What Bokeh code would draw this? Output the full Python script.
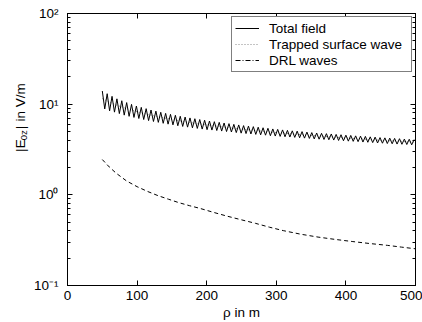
import math
from bokeh.plotting import figure
from bokeh.layouts import row
from bokeh.models import (Range1d, LinearAxis, LogAxis, LogTicker, FixedTicker,
                          Legend, LegendItem, CustomJSTickFormatter, GlobalInlineStyleSheet)
from bokeh.core.properties import value
from bokeh.embed import file_html
from bokeh.resources import INLINE

# ---------------- data ----------------
rho_total = [50, 53.5, 57, 60.5, 64, 67.5, 71, 74.5, 78, 81.5,
             85, 88.5, 92, 95.5, 99, 102.5, 106, 109.5, 113, 116.5,
             120, 123.5, 127, 130.5, 134, 137.5, 141, 144.5, 148, 151.5,
             155, 158.5, 162, 165.5, 169, 172.5, 176, 179.5, 183, 186.5,
             190, 193.5, 197, 200.5, 204, 207.5, 211, 214.5, 218, 221.5,
             225, 228.5, 232, 235.5, 239, 242.5, 246, 249.5, 253, 256.5,
             260, 263.5, 267, 270.5, 274, 277.5, 281, 284.5, 288, 291.5,
             295, 298.5, 302, 305.5, 309, 312.5, 316, 319.5, 323, 326.5,
             330, 333.5, 337, 340.5, 344, 347.5, 351, 354.5, 358, 361.5,
             365, 368.5, 372, 375.5, 379, 382.5, 386, 389.5, 393, 396.5,
             400, 403.5, 407, 410.5, 414, 417.5, 421, 424.5, 428, 431.5,
             435, 438.5, 442, 445.5, 449, 452.5, 456, 459.5, 463, 466.5,
             470, 473.5, 477, 480.5, 484, 487.5, 491, 494.5, 498]
E_total = [13.97, 8.86, 13.04, 8.44, 12.20, 8.17, 11.45, 7.87, 10.91, 7.57,
           10.41, 7.34, 9.95, 7.14, 9.54, 6.95, 9.22, 6.77, 8.92, 6.59,
           8.62, 6.44, 8.38, 6.30, 8.14, 6.15, 7.92, 6.02, 7.72, 5.91,
           7.54, 5.78, 7.35, 5.68, 7.21, 5.58, 7.05, 5.48, 6.91, 5.40,
           6.77, 5.31, 6.65, 5.23, 6.52, 5.18, 6.41, 5.12, 6.30, 5.05,
           6.20, 4.99, 6.10, 4.93, 5.99, 4.86, 5.90, 4.79, 5.80, 4.74,
           5.73, 4.69, 5.65, 4.64, 5.57, 4.59, 5.49, 4.55, 5.42, 4.49,
           5.33, 4.45, 5.27, 4.41, 5.20, 4.37, 5.14, 4.34, 5.08, 4.30,
           5.04, 4.26, 4.98, 4.22, 4.92, 4.19, 4.86, 4.14, 4.81, 4.11,
           4.77, 4.08, 4.73, 4.05, 4.69, 4.02, 4.64, 3.98, 4.60, 3.95,
           4.55, 3.91, 4.52, 3.89, 4.47, 3.86, 4.44, 3.82, 4.41, 3.80,
           4.36, 3.77, 4.33, 3.73, 4.28, 3.71, 4.25, 3.68, 4.22, 3.66,
           4.19, 3.63, 4.16, 3.61, 4.12, 3.59, 4.10, 3.56, 4.07]

rho_surface = [50, 60, 70, 80, 90, 100, 120, 140, 160, 180, 200, 250, 300, 350, 400, 450, 500]
E_surface = [11.52, 10.55, 9.80, 9.19, 8.68, 8.25, 7.56, 7.02, 6.58, 6.22, 5.91, 5.31, 4.86, 4.52, 4.24, 4.00, 3.81]

rho_drl = [50, 60, 70, 85, 100, 115, 130, 145, 160, 175, 190, 210, 230, 250, 270,
           290, 310, 335, 360, 385, 410, 435, 460, 480, 500]
E_drl = [2.45, 2.03, 1.73, 1.42, 1.23, 1.09, 0.98, 0.895, 0.82, 0.76, 0.71, 0.64, 0.58, 0.53, 0.485,
         0.44, 0.403, 0.368, 0.342, 0.322, 0.305, 0.29, 0.277, 0.265, 0.254]

series_names = ["Total field", "Trapped surface wave", "DRL waves"]
x_ticks = [0, 100, 200, 300, 400, 500]
x_label = "\u03c1 in m"
# y-axis title pieces: |E_0z| in V/m
ylab_text = ["|", "E", "0z", "|", "in V/m"]

FONT = "Liberation Sans"
FS = "13.5px"

# ---------------- main plot ----------------
p = figure(width=392, height=322, output_backend="svg", toolbar_location=None,
           y_axis_type="log", x_range=Range1d(0, 500), y_range=Range1d(0.1, 100),
           min_border_left=36, min_border_right=7, min_border_top=13, min_border_bottom=34)
p.stylesheets = [GlobalInlineStyleSheet(css="html, body { overflow: hidden; }")]
p.background_fill_color = "white"
p.border_fill_color = "white"
p.outline_line_color = "black"
p.outline_line_width = 1
p.xgrid.visible = False
p.ygrid.visible = False

blank = CustomJSTickFormatter(code="return ''")
sup_fmt = CustomJSTickFormatter(code="""
const m = {'-':'\u207b','0':'\u2070','1':'\u00b9','2':'\u00b2','3':'\u00b3','4':'\u2074',
           '5':'\u2075','6':'\u2076','7':'\u2077','8':'\u2078','9':'\u2079'};
const e = String(Math.round(Math.log10(tick)));
let s = '';
for (const c of e) { s += m[c]; }
return '10' + s;
""")

xa = p.xaxis[0]
xa.ticker = FixedTicker(ticks=x_ticks)
xa.major_tick_in = 5
xa.major_tick_out = 0
xa.minor_tick_line_color = None
xa.axis_line_color = "black"
xa.major_label_text_font = FONT
xa.major_label_text_font_size = FS
xa.major_label_text_color = "black"
xa.major_label_standoff = 5
xa.axis_label = x_label
xa.axis_label_text_font = FONT
xa.axis_label_text_font_size = FS
xa.axis_label_text_font_style = "normal"
xa.axis_label_text_color = "black"
xa.axis_label_standoff = 2

ya = p.yaxis[0]
ya.ticker = LogTicker(num_minor_ticks=10)
ya.formatter = sup_fmt
ya.major_tick_in = 5
ya.major_tick_out = 0
ya.minor_tick_in = 3
ya.minor_tick_out = 0
ya.axis_line_color = "black"
ya.major_label_text_font = FONT
ya.major_label_text_font_size = FS
ya.major_label_text_color = "black"
ya.major_label_standoff = 9

top = LinearAxis(ticker=FixedTicker(ticks=x_ticks), formatter=blank,
                 major_tick_in=5, major_tick_out=0, minor_tick_line_color=None,
                 major_label_text_font_size="0px", major_label_standoff=0, axis_line_color="black")
p.add_layout(top, "above")
right = LogAxis(ticker=LogTicker(num_minor_ticks=10), formatter=blank,
                major_tick_in=5, major_tick_out=0, minor_tick_in=3, minor_tick_out=0,
                major_label_text_font_size="0px", major_label_standoff=0, axis_line_color="black")
p.add_layout(right, "right")

r_surf = p.line(rho_surface, E_surface, line_color="#888888", line_width=1, line_dash="1 2")
r_tot = p.line(rho_total, E_total, line_color="black", line_width=1)
r_drl = p.line(rho_drl, E_drl, line_color="black", line_width=1, line_dash="4 3")
r_drl_leg = p.line([math.nan, math.nan], [math.nan, math.nan],
                   line_color="black", line_width=1, line_dash="5 2 1 2")

legend = Legend(items=[LegendItem(label=series_names[0], renderers=[r_tot]),
                       LegendItem(label=series_names[1], renderers=[r_surf]),
                       LegendItem(label=series_names[2], renderers=[r_drl_leg])],
                location="top_right", margin=3, padding=3, spacing=0,
                glyph_width=24, glyph_height=16, label_height=16, label_standoff=10,
                label_width=139, border_line_color="black", border_line_width=1,
                background_fill_color="white", background_fill_alpha=1,
                label_text_font=FONT, label_text_font_size=FS, label_text_color="black")
p.add_layout(legend)

# ---------------- narrow side panel holding the rotated y-axis title ----------------
side = figure(width=30, height=322, output_backend="svg", toolbar_location=None,
              x_range=Range1d(0, 30), y_range=Range1d(0, 322),
              x_axis_location=None, y_axis_location=None,
              min_border_left=0, min_border_right=0, min_border_top=0, min_border_bottom=0)
side.outline_line_color = None
side.xgrid.visible = False
side.ygrid.visible = False
side.background_fill_color = "white"
side.border_fill_color = "white"
ylab_x = [20, 20, 23, 20, 20]
ylab_y = [158, 162.5, 172, 185, 194]
ylab_size = [FS, FS, "9.5px", FS, FS]
side.text(x=ylab_x, y=ylab_y, text=ylab_text, angle=math.pi / 2,
          text_align="left", text_baseline="middle", text_font=value(FONT),
          text_font_size=ylab_size, text_color="black")

layout = row(side, p, spacing=0)
open("out.html", "w").write(file_html(layout, INLINE))
